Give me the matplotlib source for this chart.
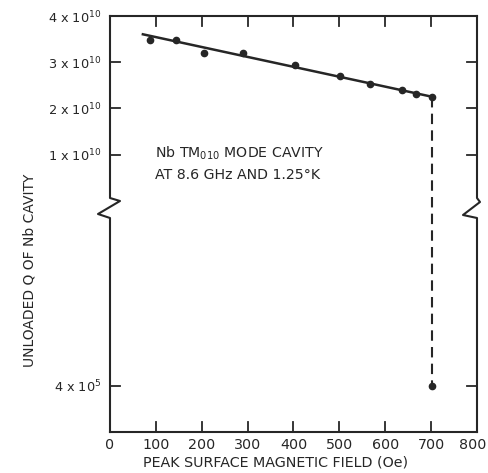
import matplotlib
matplotlib.use("Agg")
import matplotlib.pyplot as plt
import matplotlib.transforms as mtrans
import numpy as np

# ---- data ----
field_oe = [87, 144, 204, 289, 403, 501, 566, 637, 667, 701]
q_unloaded = [3.48e10, 3.47e10, 3.21e10, 3.19e10, 2.94e10, 2.71e10, 2.53e10, 2.40e10, 2.31e10, 2.255e10]
fit_x = [69, 701]
fit_q = [3.61e10, 2.255e10]
quench_x = [701, 701]
quench_q = [2.255e10, 4e5]
ytick_vals = [4e5, 1e10, 2e10, 3e10, 4e10]
ytick_labels = ["4 x 10$^5$", "1 x 10$^{10}$", "2 x 10$^{10}$", "3 x 10$^{10}$", "4 x 10$^{10}$"]
xtick_vals = [0, 100, 200, 300, 400, 500, 600, 700, 800]
xtick_labels = ["0", "100", "200", "300", "400", "500", "600", "700", "800"]
inner_x = [100, 200, 300, 400, 500, 600, 700]

# broken-axis scale: upper part linear in 1e10, lower part linear in 4e5
def fwd(q):
    q = np.asarray(q, dtype=float)
    return np.where(q < 2e6, -5 + q / 4e5, q / 1e10)

def inv(y):
    y = np.asarray(y, dtype=float)
    return np.where(y < 0, (y + 5) * 4e5, y * 1e10)

W, H = 489, 473
fig = plt.figure(figsize=(W / 100, H / 100), dpi=100)
L, R, T, B = 110, 477, 16, 432
ax = fig.add_axes([L / W, 1 - B / H, (R - L) / W, (B - T) / H])
ax.set_yscale('function', functions=(fwd, inv))
ax.set_xlim(0, 800)
ax.set_ylim(0, 4e10)

ink = '#262626'
ax.plot(fit_x, fit_q, color=ink, lw=1.8, solid_capstyle='butt')
ax.plot(field_oe, q_unloaded, 'o', color=ink, ms=4.5)
ax.plot(quench_x, quench_q, color=ink, lw=1.5, ls=(0, (5, 3)))
ax.plot([quench_x[1]], [quench_q[1]], 'o', color=ink, ms=4.5)

# ticks
ax.set_xticks(xtick_vals)
ax.set_xticklabels(xtick_labels, fontsize=10.3, color=ink)
ax.set_yticks(ytick_vals)
ax.set_yticklabels(ytick_labels, fontsize=9.3, color=ink)
ax.tick_params(axis='x', direction='in', length=0, pad=4)
ax.tick_params(axis='y', direction='in', length=0, pad=6)
ax.yaxis.set_minor_locator(matplotlib.ticker.NullLocator())

# keep the last x label inside the canvas
last = ax.get_xticklabels()[-1]
last.set_transform(last.get_transform() + mtrans.ScaledTranslation(-4 / 100, 0, fig.dpi_scale_trans))

# manual tick marks (inward)
tl = 10 / (B - T)
for xv in inner_x:
    ax.plot([xv, xv], [0, tl], transform=ax.get_xaxis_transform(), color=ink, lw=1.3, clip_on=False)
    ax.plot([xv, xv], [1, 1 - tl], transform=ax.get_xaxis_transform(), color=ink, lw=1.3, clip_on=False)
tw = 10 / (R - L)
for yv in ytick_vals[:-1]:
    ax.plot([0, tw], [yv, yv], transform=ax.get_yaxis_transform(), color=ink, lw=1.3, clip_on=False)
    ax.plot([1, 1 - tw], [yv, yv], transform=ax.get_yaxis_transform(), color=ink, lw=1.3, clip_on=False)

# spines with break
for s in ['left', 'right']:
    ax.spines[s].set_visible(False)
for s in ['top', 'bottom']:
    ax.spines[s].set_linewidth(1.5)
    ax.spines[s].set_color(ink)

def fy(p):
    return (B - p) / (B - T)

def fx(dp):
    return dp / (R - L)

lx = [0, 0, fx(10), fx(-12), 0, 0]
ly = [1, fy(198), fy(201), fy(214), fy(218), 0]
ax.plot(lx, ly, transform=ax.transAxes, color=ink, lw=1.5, clip_on=False)
rx = [1, 1, 1 + fx(3), 1 + fx(-14), 1, 1]
ry = [1, fy(198), fy(202), fy(215), fy(218), 0]
ax.plot(rx, ry, transform=ax.transAxes, color=ink, lw=1.5, clip_on=False)

# texts
ax.text(98, 1.04e10, "Nb TM$_{010}$ MODE CAVITY", fontsize=10.2, color=ink, va='center', ha='left')
ax.text(98, 0.56e10, "AT 8.6 GHz AND 1.25°K", fontsize=10.2, color=ink, va='center', ha='left')

fig.text(30 / W, 1 - 270 / H, "UNLOADED Q OF Nb CAVITY", rotation=90, fontsize=10,
         color=ink, ha='center', va='center')
fig.text(276 / W, 1 - 462 / H, "PEAK SURFACE MAGNETIC FIELD (Oe)", fontsize=10.3,
         color=ink, ha='center', va='center')

fig.savefig("out.png", dpi=100)
